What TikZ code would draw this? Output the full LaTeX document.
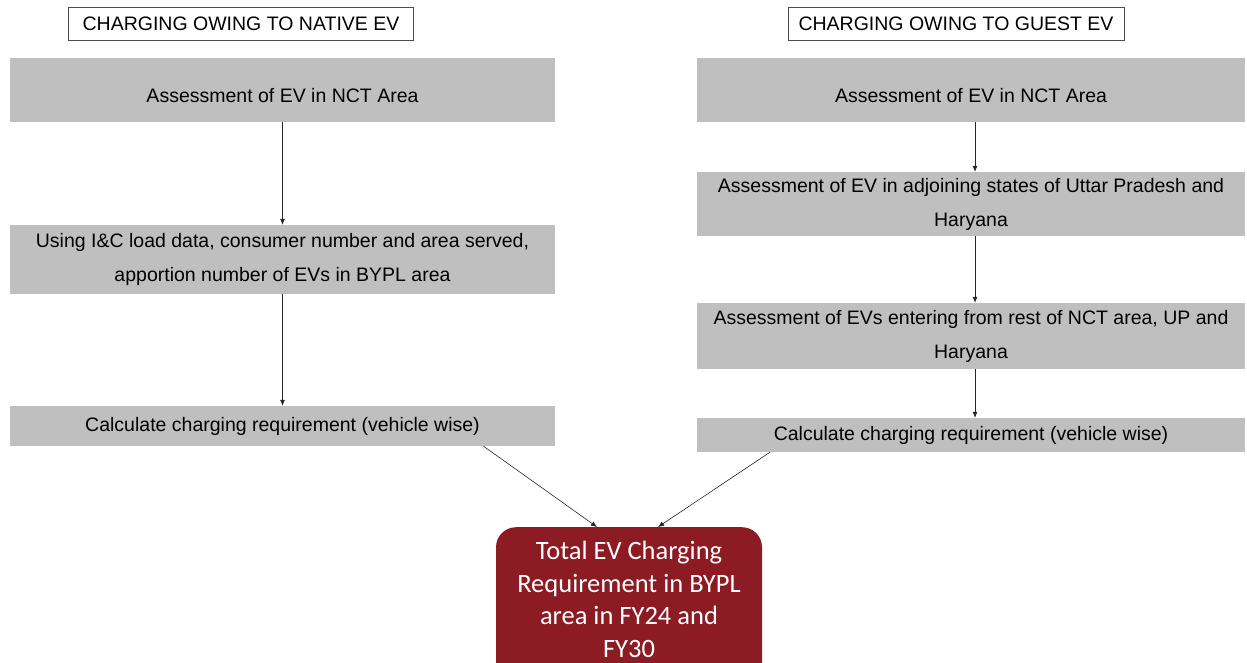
\documentclass[tikz,border=0pt]{standalone}
\usepackage{fontspec}
\setmainfont{Liberation Sans}
\newfontfamily\boxfont{Carlito}
\usetikzlibrary{arrows.meta}
\definecolor{stepgray}{RGB}{191,191,191}
\definecolor{totred}{RGB}{140,27,36}
\begin{document}
\begin{tikzpicture}[x=1pt,y=-1pt,
  header/.style={draw=black!70,line width=0.6pt,inner sep=0pt,font=\fontsize{19.5}{21}\selectfont},
  stepbox/.style={fill=stepgray,inner sep=0pt,align=center,
    font=\fontsize{19.5}{34}\selectfont},
  lowtext/.style={text height=29pt,text depth=4pt},
  flow/.style={draw=black!85,line width=0.6pt,-{Latex[length=6pt,width=5pt]}},
  total/.style={fill=totred,rounded corners=20pt,inner sep=0pt,align=center,
    text=white,font=\boxfont\fontsize{26.5}{32.5}\selectfont}]
\useasboundingbox (0,0) rectangle (1247,663);
\clip (0,0) rectangle (1247,663);

% column headers
\node[header,minimum width=345pt,minimum height=33pt] (hl) at (241,24) {CHARGING OWING TO NATIVE EV};
\node[header,minimum width=336pt,minimum height=33pt] (hr) at (956,24) {CHARGING OWING TO GUEST EV};

% native EV chain
\node[stepbox,lowtext,minimum width=545pt,minimum height=64pt] (l1) at (282.5,90) {Assessment of EV in NCT Area};
\node[stepbox,minimum width=545pt,minimum height=69pt] (l2) at (282.5,259.5)
  {Using I\&C load data, consumer number and area served,\\apportion number of EVs in BYPL area};
\node[stepbox,minimum width=545pt,minimum height=40pt] (l3) at (282.5,426) {Calculate charging requirement (vehicle wise)};

% guest EV chain
\node[stepbox,lowtext,minimum width=548pt,minimum height=64pt] (r1) at (971,90) {Assessment of EV in NCT Area};
\node[stepbox,minimum width=548pt,minimum height=64pt] (r2) at (971,204)
  {Assessment of EV in adjoining states of Uttar Pradesh and\\Haryana};
\node[stepbox,minimum width=548pt,minimum height=66pt] (r3) at (971,336)
  {Assessment of EVs entering from rest of NCT area, UP and\\Haryana};
\node[stepbox,minimum width=548pt,minimum height=34pt] (r4) at (971,435) {Calculate charging requirement (vehicle wise)};

% combined result
\node[total,minimum width=266pt,minimum height=170pt,anchor=north] (tot) at (629,527) {};
\node[total,fill=none,anchor=north] (tottext) at (tot.north) [yshift=-14pt]
  {Total EV Charging\\Requirement in BYPL\\area in FY24 and\\FY30};

% connectors
\draw[flow] (l1.south) -- (l2.north);
\draw[flow] (l2.south) -- (l3.north);
\draw[flow] ([xshift=4pt]r1.south) -- ([xshift=4pt]r2.north);
\draw[flow] ([xshift=4pt]r2.south) -- ([xshift=4pt]r3.north);
\draw[flow] ([xshift=4pt]r3.south) -- ([xshift=4pt]r4.north);
\draw[flow] ([xshift=201pt]l3.south) -- ([xshift=-32pt]tot.north);
\draw[flow] ([xshift=-201pt]r4.south) -- ([xshift=29pt]tot.north);
\end{tikzpicture}
\end{document}
